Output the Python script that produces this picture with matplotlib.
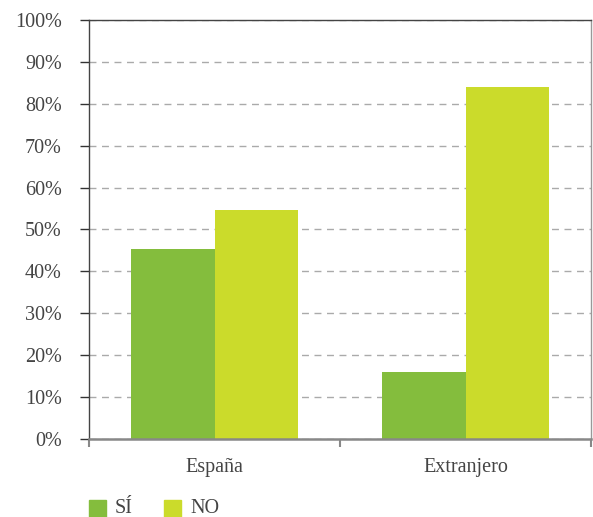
import matplotlib
matplotlib.use("Agg")
import matplotlib.pyplot as plt
from matplotlib.patches import Rectangle

categories = ["España", "Extranjero"]
series_names = ["SÍ", "NO"]
si_values = [45.3, 16.0]
no_values = [54.7, 84.0]
yticks = [0, 10, 20, 30, 40, 50, 60, 70, 80, 90, 100]

colors = ["#84bd3d", "#cbdb2b"]
plt.rcParams['font.family'] = ['Liberation Serif', 'DejaVu Serif']

fig = plt.figure(figsize=(5.93, 5.17), dpi=100)
W, H = 593, 517
ax = fig.add_axes([89 / W, 1 - 439 / H, (591 - 89) / W, (439 - 20) / H])

bw = 1 / 3
x = list(range(len(categories)))
ax.bar([i - bw / 2 for i in x], si_values, width=bw, color=colors[0], zorder=3)
ax.bar([i + bw / 2 for i in x], no_values, width=bw, color=colors[1], zorder=3)

ax.set_xlim(-0.5, len(categories) - 0.5)
ax.set_ylim(0, 100)
ax.set_yticks(yticks)
ax.set_yticklabels([f"{v}%" for v in yticks], fontsize=14.5, color="#444444")
ax.yaxis.grid(True, linestyle=(0, (5, 4)), color="#aaaaaa", linewidth=1, zorder=0)

ax.set_xticks([i - 0.5 for i in range(len(categories) + 1)])
ax.set_xticklabels([])
ax.set_xticks(x, minor=True)
ax.set_xticklabels(categories, minor=True, fontsize=14.5, color="#444444")
ax.tick_params(axis='x', which='minor', length=0, pad=14)
ax.tick_params(axis='x', which='major', length=6, width=1.5, color="#888888", direction='out')
ax.tick_params(axis='y', which='major', direction='out', length=6.5, width=1,
               color="#333333", pad=13)

for s in ['left', 'top']:
    ax.spines[s].set_color("#444444")
    ax.spines[s].set_linewidth(1)
ax.spines['right'].set_color("#999999")
ax.spines['right'].set_linewidth(1)
ax.spines['bottom'].set_color("#888888")
ax.spines['bottom'].set_linewidth(1.8)
ax.spines['bottom'].set_zorder(4)

# legend
lx = [89, 164]
for i, name in enumerate(series_names):
    fig.patches.append(Rectangle((lx[i] / W, 1 - 517 / H), 17 / W, 17 / H,
                                 transform=fig.transFigure, color=colors[i]))
    fig.text((lx[i] + 26) / W, 1 - 508.5 / H, name, fontsize=14.5, color="#444444",
             va='center', ha='left')

fig.savefig("out.png", dpi=100)
